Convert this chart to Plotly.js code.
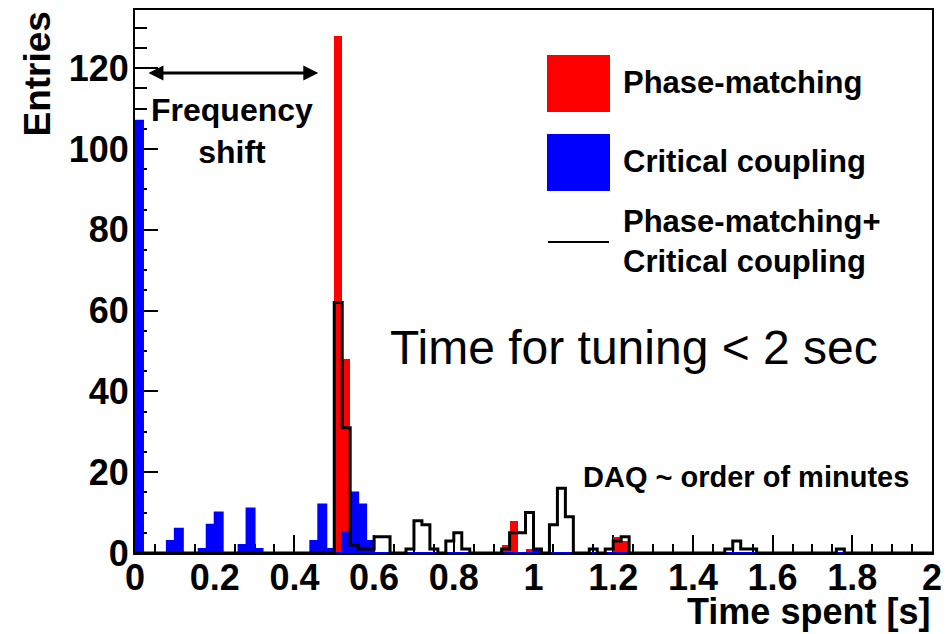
<!DOCTYPE html>
<html><head><meta charset="utf-8">
<script src="https://cdn.plot.ly/plotly-3.0.1.min.js"></script>
<style>html,body{margin:0;padding:0;background:#fff}#chart{width:951px;height:634px}</style>
</head><body><div id="chart"></div>
<script>
// Histogram: 100 bins of width 0.02 on [0, 2]
const binWidth = 0.02;
const nBins = 100;
// Phase-matching (red)
const phaseBins   = [0.50, 0.52, 0.92, 0.94, 0.98, 1.20, 1.22];
const phaseCounts = [128,  48,   2,    8,    1,    4,    3];
// Critical coupling (blue)
const critBins   = [0.00, 0.08, 0.10, 0.16, 0.18, 0.20, 0.26, 0.28, 0.30, 0.44, 0.46, 0.48, 0.52, 0.54, 0.56, 0.58, 1.00];
const critCounts = [107,  3,    6,    1,    7,    10,   2,    11,   1,    3,    12,   1,    5,    15,   12,   3,    1];
// Phase-matching + Critical coupling (black outline)
const bothBins   = [0.50, 0.52, 0.54, 0.56, 0.58, 0.60, 0.62, 0.68, 0.70, 0.72, 0.74, 0.78, 0.80, 0.82, 0.92, 0.94, 0.96, 0.98, 1.00, 1.04, 1.06, 1.08, 1.14, 1.18, 1.20, 1.22, 1.48, 1.50, 1.52, 1.54, 1.76];
const bothCounts = [62,   31,   2,    1,    1,    4,    4,    1,    8,    7,    1,    3,    5,    1,    1,    5,    5,    10,   1,    7,    16,   9,    1,    1,    3,    4,    1,    3,    1,    1,    1];

const xTickVals = [0, 0.2, 0.4, 0.6, 0.8, 1, 1.2, 1.4, 1.6, 1.8, 2];
const xTickText = ["0", "0.2", "0.4", "0.6", "0.8", "1", "1.2", "1.4", "1.6", "1.8", "2"];
const yTickVals = [0, 20, 40, 60, 80, 100, 120];
const yTickText = ["0", "20", "40", "60", "80", "100", "120"];

function fullHist(bins, counts) {
  const arr = new Array(nBins).fill(0);
  bins.forEach((b, i) => { arr[Math.round(b / binWidth)] = counts[i]; });
  return arr;
}
const edges = Array.from({length: nBins + 1}, (_, i) => +(i * binWidth).toFixed(2));
const centers = edges.slice(0, nBins).map(e => e + binWidth / 2);
const phaseFull = fullHist(phaseBins, phaseCounts);
const critFull = fullHist(critBins, critCounts);
const bothFull = fullHist(bothBins, bothCounts);
function stepY(arr) { return arr.concat([arr[arr.length - 1]]); }

const FONT = '"Liberation Sans", Arial, Helvetica, sans-serif';

const traces = [
  {type: 'bar', x: centers, y: phaseFull, width: binWidth, marker: {color: '#ff0000', line: {width: 0}}, showlegend: false, hoverinfo: 'skip'},
  {type: 'bar', x: centers, y: critFull, width: binWidth, marker: {color: '#0000ff', line: {width: 0}}, showlegend: false, hoverinfo: 'skip'},
  {type: 'scatter', mode: 'lines', x: edges, y: stepY(critFull), line: {shape: 'hv', color: '#0000ff', width: 2}, showlegend: false, hoverinfo: 'skip'},
  {type: 'scatter', mode: 'lines', x: edges, y: stepY(bothFull), line: {shape: 'hv', color: '#000000', width: 3}, showlegend: false, hoverinfo: 'skip'}
];

const xPx = 797, yPx = 543;
const layout = {
  width: 951, height: 634,
  margin: {l: 135, r: 19, t: 10, b: 81, pad: 0},
  paper_bgcolor: '#fff', plot_bgcolor: '#fff',
  barmode: 'overlay', bargap: 0,
  showlegend: false,
  font: {family: FONT, color: '#000'},
  xaxis: {
    range: [0, 2], showgrid: false, zeroline: false,
    showline: true, linecolor: '#000', linewidth: 2, mirror: true,
    layer: 'below traces',
    tickmode: 'array', tickvals: xTickVals, ticktext: xTickText,
    ticks: 'inside', ticklen: 18, tickwidth: 2, tickcolor: '#000',
    ticklabelstandoff: -8,
    minor: {tickmode: 'linear', tick0: 0, dtick: 0.05, ticks: 'inside', ticklen: 9, tickwidth: 2, tickcolor: '#000', showgrid: false},
    tickfont: {family: FONT, size: 36, weight: 'bold', color: '#000'}
  },
  yaxis: {
    range: [0, 134.4], showgrid: false, zeroline: false,
    showline: true, linecolor: '#000', linewidth: 2, mirror: true,
    layer: 'below traces',
    tickmode: 'array', tickvals: yTickVals, ticktext: yTickText,
    ticks: 'inside', ticklen: 23, tickwidth: 2, tickcolor: '#000',
    ticklabelstandoff: -3,
    minor: {tickmode: 'linear', tick0: 0, dtick: 5, ticks: 'inside', ticklen: 12, tickwidth: 2, tickcolor: '#000', showgrid: false},
    tickfont: {family: FONT, size: 36, weight: 'bold', color: '#000'}
  },
  shapes: [
    {type: 'rect', xref: 'paper', yref: 'paper', x0: (547-135)/xPx, x1: (610-135)/xPx, y0: (553-112)/yPx, y1: (553-55)/yPx, fillcolor: '#ff0000', line: {width: 0}},
    {type: 'rect', xref: 'paper', yref: 'paper', x0: (547-135)/xPx, x1: (610-135)/xPx, y0: (553-191)/yPx, y1: (553-134)/yPx, fillcolor: '#0000ff', line: {width: 0}},
    {type: 'line', xref: 'paper', yref: 'paper', x0: (548-135)/xPx, x1: (609-135)/xPx, y0: (553-242)/yPx, y1: (553-242)/yPx, line: {color: '#000', width: 2}}
  ],
  annotations: [
    {xref: 'paper', yref: 'paper', x: (37-135)/xPx, y: 1, xanchor: 'center', yanchor: 'top', textangle: -90, showarrow: false,
     text: 'Entries', font: {family: FONT, size: 37, weight: 'bold', color: '#000'}},
    {xref: 'paper', yref: 'paper', x: 1, y: (553-611)/yPx, xanchor: 'right', yanchor: 'middle', showarrow: false,
     text: 'Time spent [s]', font: {family: FONT, size: 36, weight: 'bold', color: '#000'}},
    {xref: 'x', yref: 'y', x: 0.46, y: 118.8, axref: 'x', ayref: 'y', ax: 0.03, ay: 118.8, text: '', showarrow: true,
     arrowside: 'end+start', arrowhead: 2, arrowsize: 1, arrowwidth: 3, arrowcolor: '#000', standoff: 0, startstandoff: 0},
    {xref: 'paper', yref: 'paper', x: (232-135)/xPx, y: (553-130.5)/yPx, xanchor: 'center', yanchor: 'middle', showarrow: false,
     text: 'Frequency<br>shift', font: {family: FONT, size: 32, weight: 'bold', color: '#000'}},
    {xref: 'paper', yref: 'paper', x: (621-135)/xPx, y: (553-82)/yPx, xanchor: 'left', yanchor: 'middle', showarrow: false, align: 'left',
     text: 'Phase-matching', font: {family: FONT, size: 31, weight: 'bold', color: '#000'}},
    {xref: 'paper', yref: 'paper', x: (621-135)/xPx, y: (553-162)/yPx, xanchor: 'left', yanchor: 'middle', showarrow: false, align: 'left',
     text: 'Critical coupling', font: {family: FONT, size: 31, weight: 'bold', color: '#000'}},
    {xref: 'paper', yref: 'paper', x: (621-135)/xPx, y: (553-241.5)/yPx, xanchor: 'left', yanchor: 'middle', showarrow: false, align: 'left',
     text: 'Phase-matching+<br>Critical coupling', font: {family: FONT, size: 31, weight: 'bold', color: '#000'}},
    {xref: 'paper', yref: 'paper', x: (634-135)/xPx, y: (553-347)/yPx, xanchor: 'center', yanchor: 'middle', showarrow: false,
     text: 'Time for tuning &lt; 2 sec', font: {family: FONT, size: 48, color: '#000'}},
    {xref: 'paper', yref: 'paper', x: (746-135)/xPx, y: (553-477)/yPx, xanchor: 'center', yanchor: 'middle', showarrow: false,
     text: 'DAQ ~ order of minutes', font: {family: FONT, size: 29, weight: 'bold', color: '#000'}}
  ]
};

Plotly.newPlot('chart', traces, layout, {displayModeBar: false, staticPlot: true});
</script>
</body></html>
